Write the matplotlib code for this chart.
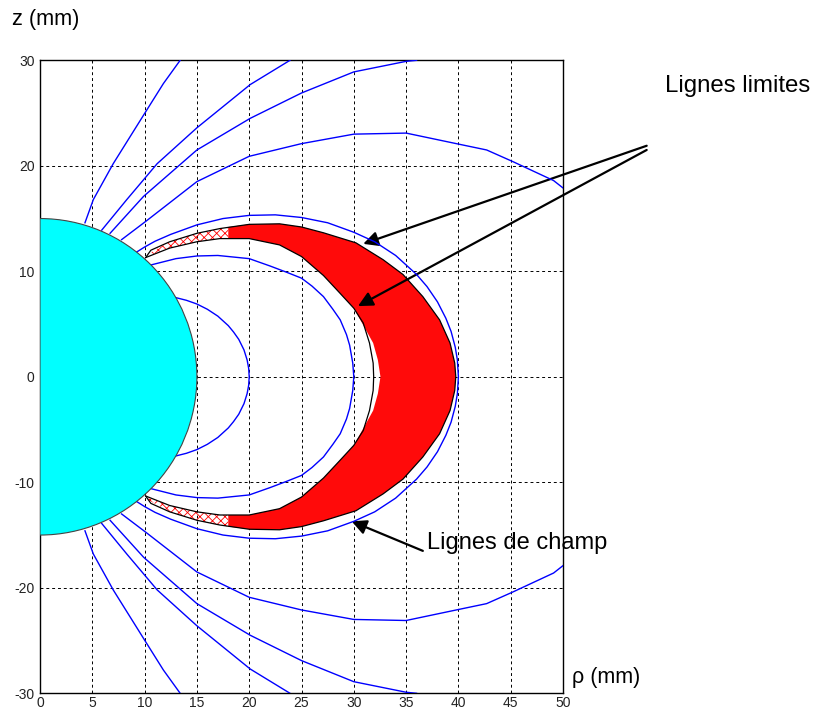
import numpy as np
import matplotlib.pyplot as plt
from matplotlib.patches import Wedge

plt.rcParams['font.family'] = ['Liberation Sans', 'DejaVu Sans']
plt.rcParams['hatch.linewidth'] = 0.6
plt.rcParams['axes.unicode_minus'] = False

# rayon de la sphere (mm)
R_SPHERE = 15

# lignes de champ ouvertes (moitie z>0, symetriques pour z<0)
lineA_rho = [4.3, 5.1, 7.0, 9.9, 11.8, 13.4]
lineA_z = [14.6, 16.8, 20.2, 24.8, 27.8, 30.0]
lineB_rho = [5.9, 8.3, 11.2, 15.0, 20.1, 23.9]
lineB_z = [13.9, 16.8, 20.2, 23.6, 27.7, 30.0]
lineC_rho = [6.7, 9.9, 15.0, 20.1, 25.0, 30.0, 35.0, 36.0]
lineC_z = [13.6, 17.1, 21.5, 24.5, 26.9, 28.9, 29.9, 30.0]
lineD_rho = [7.8, 10.2, 15.0, 20.0, 25.0, 30.0, 35.0, 39.8, 42.7, 45.2, 49.1, 50.0]
lineD_z = [13.0, 14.8, 18.5, 20.9, 22.1, 23.0, 23.1, 22.1, 21.5, 20.4, 18.6, 17.9]

# lignes de champ fermees (de la sphere jusqu'a z=0)
loop20_rho = [13.0, 14.0, 15.0, 16.0, 17.0, 18.0, 18.5, 19.0, 19.5, 19.8, 19.95, 20.0]
loop20_z = [7.5, 7.25, 6.9, 6.4, 5.75, 4.85, 4.25, 3.55, 2.55, 1.6, 0.8, 0.0]
loop30_rho = [10.6, 13.0, 15.0, 17.0, 20.0, 22.0, 23.6, 25.0, 26.0, 27.1, 28.0, 28.7,
              29.3, 29.6, 29.9, 30.0]
loop30_z = [10.6, 11.2, 11.45, 11.5, 11.2, 10.5, 9.9, 9.35, 8.6, 7.6, 6.4, 5.4,
            4.0, 3.0, 1.3, 0.0]
loop40_rho = [9.2, 10.0, 11.0, 12.5, 15.0, 17.5, 20.0, 22.5, 25.0, 27.5, 30.0, 32.0,
              34.0, 36.0, 37.0, 38.0, 38.8, 39.3, 39.7, 39.9, 40.0]
loop40_z = [11.8, 12.3, 12.85, 13.5, 14.4, 15.0, 15.3, 15.35, 15.1, 14.6, 13.7, 12.8,
            11.5, 9.7, 8.55, 7.1, 5.55, 4.3, 2.8, 1.6, 0.0]

# lignes limites (noires)
lim_out_rho = [10.1, 10.6, 12.4, 15.0, 17.2, 20.0, 22.9, 25.0, 27.1, 30.2, 32.8, 34.7,
               36.6, 38.2, 39.2, 39.65, 39.75]
lim_out_z = [11.3, 12.0, 12.8, 13.6, 14.05, 14.45, 14.5, 14.2, 13.65, 12.7, 11.1, 9.7,
             7.6, 5.4, 3.2, 1.3, 0.0]
lim_in_rho = [10.1, 12.4, 15.0, 17.2, 20.0, 22.9, 25.0, 27.1, 28.7, 30.0, 30.9, 31.5,
              31.85, 31.9]
lim_in_z = [11.3, 12.2, 12.8, 13.1, 13.1, 12.5, 11.4, 9.6, 7.9, 6.5, 5.1, 3.2,
            1.3, 0.0]

# zone rouge dense
red_out_rho = [18.0, 20.0, 22.9, 25.0, 27.1, 30.2, 32.8, 34.7, 36.6, 38.2, 39.2, 39.65, 39.75]
red_out_z = [14.2, 14.45, 14.5, 14.2, 13.65, 12.7, 11.1, 9.7, 7.6, 5.4, 3.2, 1.3, 0.0]
red_in_rho = [18.0, 20.0, 22.9, 25.0, 27.1, 28.7, 30.0, 30.9, 31.85, 32.3, 32.55]
red_in_z = [13.1, 13.1, 12.5, 11.4, 9.6, 7.9, 6.5, 4.9, 3.2, 1.6, 0.0]

# zone des trajectoires clairsemees
tr_out_rho = [10.4, 12.4, 15.0, 17.2, 18.0]
tr_out_z = [11.7, 12.8, 13.6, 14.05, 14.2]
tr_in_rho = [10.4, 12.4, 15.0, 17.2, 18.0]
tr_in_z = [11.5, 12.2, 12.8, 13.1, 13.1]


def mirror(rho, z):
    rho = np.asarray(rho)
    z = np.asarray(z)
    return np.r_[rho, rho[::-1][1:]], np.r_[z, -z[::-1][1:]]


fig = plt.figure(figsize=(8.13, 7.11), dpi=100)
ax = fig.add_axes([0.0492, 0.0249, 0.6433, 0.8903])
ax.set_xlim(0, 50)
ax.set_ylim(-30, 30)
ax.set_xticks(range(0, 51, 5))
ax.set_yticks(range(-30, 31, 10))
ax.grid(True, color='k', ls=(0, (3, 3)), lw=0.7)
ax.set_axisbelow(True)
ax.tick_params(length=0, labelsize=10, colors='#222222')
ax.tick_params(axis='x', pad=2)
ax.tick_params(axis='y', pad=4)
for s in ax.spines.values():
    s.set_linewidth(1.0)

# zone rouge
o_r, o_z = mirror(red_out_rho, red_out_z)
i_r, i_z = mirror(red_in_rho, red_in_z)
ax.fill(np.r_[o_r, i_r[::-1]], np.r_[o_z, i_z[::-1]], color='#ff0a0a', lw=0, zorder=2)

for sgn in (1, -1):
    ax.fill(np.r_[tr_out_rho, tr_in_rho[::-1]],
            sgn * np.r_[tr_out_z, tr_in_z[::-1]],
            facecolor='none', edgecolor='red', hatch='xxxx', lw=0, zorder=2)

# lignes limites
for rho, z in [(lim_out_rho, lim_out_z), (lim_in_rho, lim_in_z)]:
    r, zz = mirror(rho, z)
    ax.plot(r, zz, color='k', lw=0.9, zorder=3)

# lignes de champ
for rho, z in [(loop20_rho, loop20_z), (loop30_rho, loop30_z), (loop40_rho, loop40_z)]:
    r, zz = mirror(rho, z)
    ax.plot(r, zz, color='b', lw=1.0, zorder=4)

for rho, z in [(lineA_rho, lineA_z), (lineB_rho, lineB_z),
               (lineC_rho, lineC_z), (lineD_rho, lineD_z)]:
    ax.plot(rho, z, color='b', lw=1.0, zorder=4)
    ax.plot(rho, -np.asarray(z), color='b', lw=1.0, zorder=4)

# sphere
ax.add_patch(Wedge((0, 0), R_SPHERE, -90, 90, facecolor='cyan',
                   edgecolor='#444444', lw=0.8, zorder=5))

# annotations
arrow = dict(arrowstyle='-|>', color='k', lw=1.6, mutation_scale=22, shrinkA=0, shrinkB=0)
ax.annotate('', xy=(30.9, 12.6), xytext=(58.0, 21.9), arrowprops=arrow, annotation_clip=False)
ax.annotate('', xy=(30.4, 6.7), xytext=(58.0, 21.5), arrowprops=arrow, annotation_clip=False)
ax.annotate('', xy=(29.8, -13.7), xytext=(36.6, -16.5), arrowprops=arrow, annotation_clip=False)

fig.text(665 / 813, 1 - 86 / 711, 'Lignes limites', fontsize=17.3, va='center', ha='left')
fig.text(427 / 813, 1 - 543 / 711, 'Lignes de champ', fontsize=17, va='center', ha='left')
fig.text(12 / 813, 1 - 20 / 711, 'z (mm)', fontsize=15.7, va='center', ha='left')
fig.text(572 / 813, 1 - 677 / 711, 'ρ (mm)', fontsize=15.5, va='center', ha='left')

fig.savefig('out.png', dpi=100)
